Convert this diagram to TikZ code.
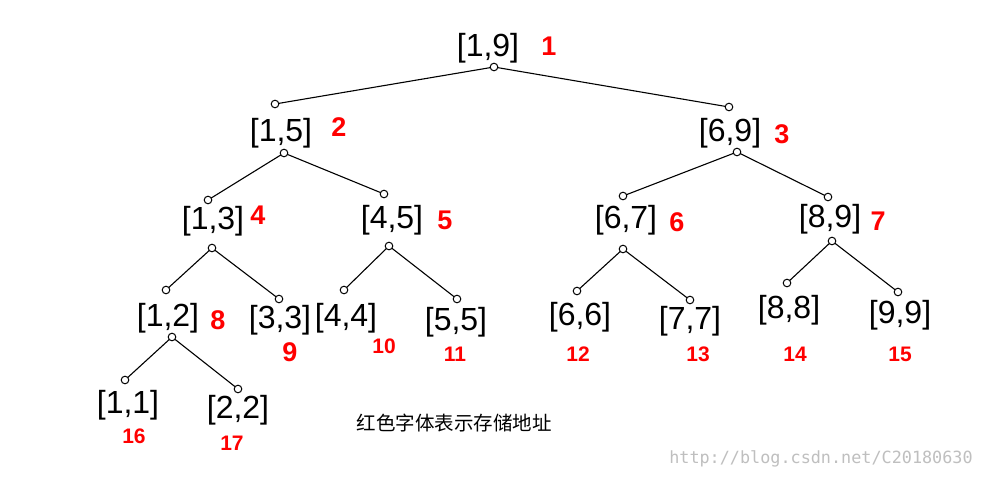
\documentclass[tikz,border=0pt]{standalone}
\usepackage{fontspec}
\setmainfont{Liberation Sans}
\newfontfamily\cjk{Noto Sans CJK SC}
\setmonofont{DejaVu Sans Mono}
\begin{document}
\begin{tikzpicture}[x=1pt,y=-1pt,
  seg/.style={font=\fontsize{32}{34}\selectfont,inner sep=0},
  big/.style={font=\fontsize{27}{29}\selectfont\bfseries,text=red,inner sep=0},
  small/.style={font=\fontsize{21}{23}\selectfont\bfseries,text=red,inner sep=0},
  edge/.style={line width=1.1pt},
  dot/.style={draw,fill=white,line width=1pt}]
\useasboundingbox[fill=white] (0,0) rectangle (983,479);
\node[seg] (n1) at (488,48) {[1,9]}; \node[big] (a1) at (549,46) {1};
\node[seg] (n2) at (281,133) {[1,5]}; \node[big] (a2) at (339,127) {2};
\node[seg] (n3) at (730,133) {[6,9]}; \node[big] (a3) at (782,134) {3};
\node[seg] (n4) at (213,221) {[1,3]}; \node[big] (a4) at (258,215) {4};
\node[seg] (n5) at (392,220) {[4,5]}; \node[big] (a5) at (445,220) {5};
\node[seg] (n6) at (626,220) {[6,7]}; \node[big] (a6) at (677,222) {6};
\node[seg] (n7) at (830,219) {[8,9]}; \node[big] (a7) at (878,221) {7};
\node[seg] (n8) at (168,318) {[1,2]}; \node[big] (a8) at (218,320) {8};
\node[seg] (n9) at (280,320) {[3,3]}; \node[big] (a9) at (290,352) {9};
\node[seg] (n10) at (346,318) {[4,4]}; \node[small] (a10) at (384,346) {10};
\node[seg] (n11) at (456,322) {[5,5]}; \node[small] (a11) at (455,354) {11};
\node[seg] (n12) at (580,317) {[6,6]}; \node[small] (a12) at (578,354) {12};
\node[seg] (n13) at (690,321) {[7,7]}; \node[small] (a13) at (698,354) {13};
\node[seg] (n14) at (789,310) {[8,8]}; \node[small] (a14) at (795,354) {14};
\node[seg] (n15) at (900,315) {[9,9]}; \node[small] (a15) at (900,354) {15};
\node[seg] (n16) at (128,405) {[1,1]}; \node[small] (a16) at (134,436) {16};
\node[seg] (n17) at (238,410) {[2,2]}; \node[small] (a17) at (232,443) {17};
\node[font=\cjk\fontsize{19.5}{21}\selectfont] (note) at (454,423) {红色字体表示存储地址};
\node[font=\ttfamily\fontsize{16.8}{18}\selectfont,text=black!25] (wm) at (821,459) {http://blog.csdn.net/C20180630};
\coordinate (b1) at (494,67);
\coordinate (t2) at (275,104); \coordinate (t3) at (729,107);
\coordinate (b2) at (284,153); \coordinate (t4) at (208,200); \coordinate (t5) at (384,194);
\coordinate (b3) at (737,152); \coordinate (t6) at (623,196); \coordinate (t7) at (828,197);
\coordinate (b4) at (212,248); \coordinate (t8) at (166,290); \coordinate (t9) at (279,299);
\coordinate (b5) at (389,246); \coordinate (t10) at (344,290); \coordinate (t11) at (457,299);
\coordinate (b6) at (623,249); \coordinate (t12) at (577,291); \coordinate (t13) at (690,300);
\coordinate (b7) at (832,241); \coordinate (t14) at (787,283); \coordinate (t15) at (898,292);
\coordinate (b8) at (172,337); \coordinate (t16) at (125,380); \coordinate (t17) at (238,389);
\foreach \p/\c in {1/2,1/3,2/4,2/5,3/6,3/7,4/8,4/9,5/10,5/11,6/12,6/13,7/14,7/15,8/16,8/17}
  \draw[edge] (b\p) -- (t\c);
\foreach \c in {b1,b2,b3,b4,b5,b6,b7,b8,t2,t3,t4,t5,t6,t7,t8,t9,t10,t11,t12,t13,t14,t15,t16,t17}
  \draw[dot] (\c) circle[radius=3.8];
\end{tikzpicture}
\end{document}
